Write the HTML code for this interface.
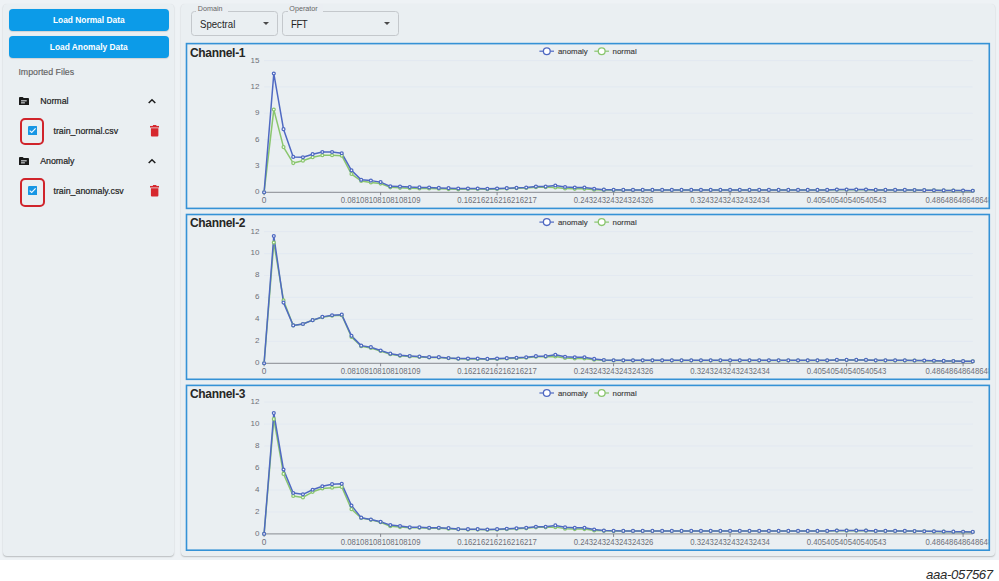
<!DOCTYPE html>
<html><head><meta charset="utf-8">
<style>
html,body{margin:0;padding:0;}
body{width:999px;height:581px;background:#ffffff;position:relative;overflow:hidden;font-family:"Liberation Sans",sans-serif;}
.page{position:absolute;left:0;top:0;width:999px;height:559.5px;background:#eef2f5;}
.panel{position:absolute;background:#eaeff2;border-radius:4px;box-shadow:0 1px 1.5px rgba(0,0,0,0.22),0 0 1px rgba(0,0,0,0.06);}
.btn{position:absolute;left:8.6px;width:160.3px;height:22.7px;background:#0c9be8;border-radius:4px;color:#fff;font-weight:bold;font-size:8.4px;text-align:center;line-height:23px;box-shadow:0 0.5px 1px rgba(0,0,0,0.12);}
.lbl{position:absolute;white-space:nowrap;}
.tx{font-size:8.8px;color:#1c1c1c;-webkit-text-stroke:0.2px #1c1c1c;}
.cbox{position:absolute;left:186px;width:801.5px;height:163.5px;border:1.5px solid #3b92d8;}
.ctitle{position:absolute;left:189.9px;font-weight:bold;font-size:12px;letter-spacing:-0.3px;color:#262626;}
.sel{position:absolute;top:11.25px;height:22.75px;border:1px solid #c4c8cc;border-radius:3.5px;}
.sel .t{position:absolute;left:8.3px;top:0.6px;line-height:22.75px;font-size:10.7px;color:#1f1f1f;transform:scaleX(0.9);transform-origin:0 0;}
.sel .lab{position:absolute;left:4.5px;top:-8.2px;padding:0 5px 0 1.8px;background:#eaeef2;font-size:7.2px;color:#666;line-height:9px;}
.sel .arr{position:absolute;top:10.2px;width:0;height:0;border-left:3px solid transparent;border-right:3px solid transparent;border-top:3px solid #4a4a4a;}
svg text.xl{font-family:"Liberation Sans",sans-serif;font-size:8.3px;fill:#6e7079;}
svg text.yl{font-family:"Liberation Sans",sans-serif;font-size:8px;fill:#6e7079;}
svg text.lg{font-family:"Liberation Sans",sans-serif;font-size:7.9px;fill:#3a3a3a;stroke:#3a3a3a;stroke-width:0.12px;}
</style></head><body>
<div class="page"></div>
<div class="panel" style="left:3.1px;top:3.8px;width:170.5px;height:552.3px;"></div>
<div class="panel" style="left:180.8px;top:4px;width:814.5px;height:552px;"></div>

<div class="btn" style="top:8.6px;">Load Normal Data</div>
<div class="btn" style="top:36.2px;height:22.3px;">Load Anomaly Data</div>
<div class="lbl" style="left:18.4px;top:66.5px;font-size:8.8px;color:#626262;-webkit-text-stroke:0.15px #626262;">Imported Files</div>


<svg style="position:absolute;left:19.0px;top:96.9px" width="10.1" height="8.3" viewBox="0 0 11 9" preserveAspectRatio="none"><path d="M0 1 Q0 0 1 0 H4 L5.2 1.2 H10 Q11 1.2 11 2.2 V8 Q11 9 10 9 H1 Q0 9 0 8 Z" fill="#1b1b1b"/><rect x="2.2" y="3.6" width="6.2" height="1.1" fill="#eaeef2"/><rect x="2.2" y="5.8" width="4.2" height="1.1" fill="#eaeef2"/></svg>
<div class="lbl tx" style="left:40.2px;top:95.6px;">Normal</div>
<svg style="position:absolute;left:147.8px;top:98.2px" width="8" height="6" viewBox="0 0 8 6"><path d="M0.7 5 L4 1.7 L7.3 5" fill="none" stroke="#1e1e1e" stroke-width="1.5"/></svg>
<div style="position:absolute;left:20.1px;top:118.1px;width:20.2px;height:23.2px;border:2px solid #d0242b;border-radius:5px;"></div>
<svg style="position:absolute;left:27.5px;top:126.1px" width="9.4" height="9.4" viewBox="0 0 9.4 9.4"><rect x="0" y="0" width="9.4" height="9.4" rx="1.3" fill="#1896e4"/><path d="M1.7 4.6 L3.7 6.5 L7.6 2.4" fill="none" stroke="#f2f8ff" stroke-width="1.15"/></svg>
<div class="lbl tx" style="left:53.5px;top:125.7px;">train_normal.csv</div>
<svg style="position:absolute;left:149.8px;top:125.2px" width="9.3" height="11.6" viewBox="0 0 9.2 11" preserveAspectRatio="none"><rect x="0" y="0.9" width="9.2" height="1.5" fill="#d6282e"/><rect x="2.9" y="0" width="3.4" height="1.4" fill="#d6282e"/><path d="M0.9 3 H8.3 V9.9 Q8.3 10.9 7.3 10.9 H1.9 Q0.9 10.9 0.9 9.9 Z" fill="#d6282e"/></svg>


<svg style="position:absolute;left:19.0px;top:156.9px" width="10.1" height="8.3" viewBox="0 0 11 9" preserveAspectRatio="none"><path d="M0 1 Q0 0 1 0 H4 L5.2 1.2 H10 Q11 1.2 11 2.2 V8 Q11 9 10 9 H1 Q0 9 0 8 Z" fill="#1b1b1b"/><rect x="2.2" y="3.6" width="6.2" height="1.1" fill="#eaeef2"/><rect x="2.2" y="5.8" width="4.2" height="1.1" fill="#eaeef2"/></svg>
<div class="lbl tx" style="left:40.2px;top:155.6px;">Anomaly</div>
<svg style="position:absolute;left:147.8px;top:158.2px" width="8" height="6" viewBox="0 0 8 6"><path d="M0.7 5 L4 1.7 L7.3 5" fill="none" stroke="#1e1e1e" stroke-width="1.5"/></svg>
<div style="position:absolute;left:19.6px;top:178.0px;width:21.2px;height:24.5px;border:2px solid #d0242b;border-radius:5px;"></div>
<svg style="position:absolute;left:27.5px;top:186.1px" width="9.4" height="9.4" viewBox="0 0 9.4 9.4"><rect x="0" y="0" width="9.4" height="9.4" rx="1.3" fill="#1896e4"/><path d="M1.7 4.6 L3.7 6.5 L7.6 2.4" fill="none" stroke="#f2f8ff" stroke-width="1.15"/></svg>
<div class="lbl tx" style="left:53.5px;top:185.7px;">train_anomaly.csv</div>
<svg style="position:absolute;left:149.8px;top:185.2px" width="9.3" height="11.6" viewBox="0 0 9.2 11" preserveAspectRatio="none"><rect x="0" y="0.9" width="9.2" height="1.5" fill="#d6282e"/><rect x="2.9" y="0" width="3.4" height="1.4" fill="#d6282e"/><path d="M0.9 3 H8.3 V9.9 Q8.3 10.9 7.3 10.9 H1.9 Q0.9 10.9 0.9 9.9 Z" fill="#d6282e"/></svg>


<!-- selects -->
<div class="sel" style="left:190.5px;width:85px;"><span class="lab">Domain</span><span class="t">Spectral</span><span class="arr" style="left:71px;"></span></div>
<div class="sel" style="left:282px;width:115px;"><span class="lab">Operator</span><span class="t" style="letter-spacing:-0.5px;">FFT</span><span class="arr" style="left:100.8px;"></span></div>

<div class="ctitle" style="top:45.50px">Channel-1</div><div class="ctitle" style="top:216.40px">Channel-2</div><div class="ctitle" style="top:387.30px">Channel-3</div>
<svg style="position:absolute;left:0;top:0" width="999" height="581" viewBox="0 0 999 581">
<defs><clipPath id="cp"><rect x="187.3" y="0" width="801.2" height="581"/></clipPath></defs>
<g clip-path="url(#cp)">
<text x="259.4" y="194.20" text-anchor="end" class="yl">0</text>
<line x1="264.10" y1="165.96" x2="972.78" y2="165.96" stroke="#e0e6f1" stroke-width="0.7"/>
<text x="259.4" y="167.86" text-anchor="end" class="yl">3</text>
<line x1="264.10" y1="139.62" x2="972.78" y2="139.62" stroke="#e0e6f1" stroke-width="0.7"/>
<text x="259.4" y="141.52" text-anchor="end" class="yl">6</text>
<line x1="264.10" y1="113.28" x2="972.78" y2="113.28" stroke="#e0e6f1" stroke-width="0.7"/>
<text x="259.4" y="115.18" text-anchor="end" class="yl">9</text>
<line x1="264.10" y1="86.94" x2="972.78" y2="86.94" stroke="#e0e6f1" stroke-width="0.7"/>
<text x="259.4" y="88.84" text-anchor="end" class="yl">12</text>
<line x1="264.10" y1="60.60" x2="972.78" y2="60.60" stroke="#e0e6f1" stroke-width="0.7"/>
<text x="259.4" y="62.50" text-anchor="end" class="yl">15</text>
<line x1="264.10" y1="192.30" x2="972.78" y2="192.30" stroke="#6e7079" stroke-width="0.8"/>
<line x1="264.10" y1="192.30" x2="264.10" y2="195.30" stroke="#6e7079" stroke-width="0.8"/>
<text x="264.10" y="203.00" text-anchor="middle" class="xl">0</text>
<line x1="380.60" y1="192.30" x2="380.60" y2="195.30" stroke="#6e7079" stroke-width="0.8"/>
<text x="380.60" y="203.00" text-anchor="middle" class="xl" textLength="79.72" lengthAdjust="spacingAndGlyphs">0.08108108108108109</text>
<line x1="497.09" y1="192.30" x2="497.09" y2="195.30" stroke="#6e7079" stroke-width="0.8"/>
<text x="497.09" y="203.00" text-anchor="middle" class="xl" textLength="79.72" lengthAdjust="spacingAndGlyphs">0.16216216216216217</text>
<line x1="613.59" y1="192.30" x2="613.59" y2="195.30" stroke="#6e7079" stroke-width="0.8"/>
<text x="613.59" y="203.00" text-anchor="middle" class="xl" textLength="79.72" lengthAdjust="spacingAndGlyphs">0.24324324324324326</text>
<line x1="730.08" y1="192.30" x2="730.08" y2="195.30" stroke="#6e7079" stroke-width="0.8"/>
<text x="730.08" y="203.00" text-anchor="middle" class="xl" textLength="79.72" lengthAdjust="spacingAndGlyphs">0.32432432432432434</text>
<line x1="846.58" y1="192.30" x2="846.58" y2="195.30" stroke="#6e7079" stroke-width="0.8"/>
<text x="846.58" y="203.00" text-anchor="middle" class="xl" textLength="79.72" lengthAdjust="spacingAndGlyphs">0.40540540540540543</text>
<line x1="963.08" y1="192.30" x2="963.08" y2="195.30" stroke="#6e7079" stroke-width="0.8"/>
<text x="963.08" y="203.00" text-anchor="middle" class="xl" textLength="75.41" lengthAdjust="spacingAndGlyphs">0.4864864864864864</text>
<polyline points="264.10,192.30 273.81,109.59 283.52,147.08 293.22,163.06 302.93,160.69 312.64,157.18 322.35,155.25 332.06,155.25 341.76,155.69 351.47,174.04 361.18,180.89 370.89,182.47 380.60,183.61 390.30,187.30 400.01,187.82 409.72,188.17 419.43,188.44 429.14,188.52 438.84,188.79 448.55,189.05 458.26,189.31 467.97,188.90 477.68,188.90 487.38,189.14 497.09,188.90 506.80,188.59 516.51,188.27 526.22,187.95 535.92,187.16 545.63,187.16 555.34,187.43 565.05,188.51 574.76,188.82 584.46,188.82 594.17,189.77 603.88,189.93 613.59,190.09 623.30,190.05 633.00,190.05 642.71,190.05 652.42,190.05 662.13,190.05 671.84,190.05 681.54,190.05 691.25,190.05 700.96,190.05 710.67,190.05 720.38,190.05 730.08,190.05 739.79,190.05 749.50,190.05 759.21,190.05 768.92,190.05 778.62,190.05 788.33,190.05 798.04,190.05 807.75,190.05 817.46,190.05 827.16,190.05 836.87,189.71 846.58,189.71 856.29,189.71 866.00,189.71 875.70,190.05 885.41,190.05 895.12,190.05 904.83,190.05 914.54,190.16 924.24,190.26 933.95,190.37 943.66,190.48 953.37,190.59 963.08,190.70 972.78,190.81" fill="none" stroke="#8ac66e" stroke-width="1.5" stroke-linejoin="round"/>
<polyline points="264.10,192.30 273.81,73.51 283.52,129.17 293.22,156.92 302.93,157.27 312.64,154.19 322.35,152.00 332.06,152.00 341.76,153.23 351.47,170.35 361.18,179.83 370.89,180.62 380.60,182.12 390.30,186.33 400.01,186.59 409.72,187.12 419.43,187.38 429.14,187.47 438.84,187.91 448.55,188.17 458.26,188.52 467.97,188.52 477.68,188.52 487.38,188.79 497.09,188.52 506.80,188.17 516.51,187.82 526.22,187.47 535.92,186.59 545.63,186.59 555.34,185.54 565.05,187.03 574.76,187.47 584.46,187.47 594.17,188.79 603.88,189.67 613.59,189.84 623.30,189.93 633.00,189.93 642.71,189.93 652.42,189.93 662.13,189.93 671.84,189.93 681.54,189.93 691.25,189.93 700.96,189.93 710.67,189.93 720.38,189.93 730.08,189.93 739.79,189.93 749.50,189.93 759.21,189.93 768.92,189.93 778.62,189.93 788.33,189.93 798.04,189.93 807.75,189.93 817.46,189.93 827.16,189.93 836.87,189.58 846.58,189.58 856.29,189.58 866.00,189.58 875.70,189.93 885.41,189.93 895.12,189.93 904.83,189.93 914.54,190.04 924.24,190.16 933.95,190.27 943.66,190.39 953.37,190.50 963.08,190.61 972.78,190.73" fill="none" stroke="#4f69c2" stroke-width="1.5" stroke-linejoin="round"/>
<circle cx="264.10" cy="192.30" r="1.45" fill="#fff" stroke="#8ac66e" stroke-width="1.25"/><circle cx="273.81" cy="109.59" r="1.45" fill="#fff" stroke="#8ac66e" stroke-width="1.25"/><circle cx="283.52" cy="147.08" r="1.45" fill="#fff" stroke="#8ac66e" stroke-width="1.25"/><circle cx="293.22" cy="163.06" r="1.45" fill="#fff" stroke="#8ac66e" stroke-width="1.25"/><circle cx="302.93" cy="160.69" r="1.45" fill="#fff" stroke="#8ac66e" stroke-width="1.25"/><circle cx="312.64" cy="157.18" r="1.45" fill="#fff" stroke="#8ac66e" stroke-width="1.25"/><circle cx="322.35" cy="155.25" r="1.45" fill="#fff" stroke="#8ac66e" stroke-width="1.25"/><circle cx="332.06" cy="155.25" r="1.45" fill="#fff" stroke="#8ac66e" stroke-width="1.25"/><circle cx="341.76" cy="155.69" r="1.45" fill="#fff" stroke="#8ac66e" stroke-width="1.25"/><circle cx="351.47" cy="174.04" r="1.45" fill="#fff" stroke="#8ac66e" stroke-width="1.25"/><circle cx="361.18" cy="180.89" r="1.45" fill="#fff" stroke="#8ac66e" stroke-width="1.25"/><circle cx="370.89" cy="182.47" r="1.45" fill="#fff" stroke="#8ac66e" stroke-width="1.25"/><circle cx="380.60" cy="183.61" r="1.45" fill="#fff" stroke="#8ac66e" stroke-width="1.25"/><circle cx="390.30" cy="187.30" r="1.45" fill="#fff" stroke="#8ac66e" stroke-width="1.25"/><circle cx="400.01" cy="187.82" r="1.45" fill="#fff" stroke="#8ac66e" stroke-width="1.25"/><circle cx="409.72" cy="188.17" r="1.45" fill="#fff" stroke="#8ac66e" stroke-width="1.25"/><circle cx="419.43" cy="188.44" r="1.45" fill="#fff" stroke="#8ac66e" stroke-width="1.25"/><circle cx="429.14" cy="188.52" r="1.45" fill="#fff" stroke="#8ac66e" stroke-width="1.25"/><circle cx="438.84" cy="188.79" r="1.45" fill="#fff" stroke="#8ac66e" stroke-width="1.25"/><circle cx="448.55" cy="189.05" r="1.45" fill="#fff" stroke="#8ac66e" stroke-width="1.25"/><circle cx="458.26" cy="189.31" r="1.45" fill="#fff" stroke="#8ac66e" stroke-width="1.25"/><circle cx="467.97" cy="188.90" r="1.45" fill="#fff" stroke="#8ac66e" stroke-width="1.25"/><circle cx="477.68" cy="188.90" r="1.45" fill="#fff" stroke="#8ac66e" stroke-width="1.25"/><circle cx="487.38" cy="189.14" r="1.45" fill="#fff" stroke="#8ac66e" stroke-width="1.25"/><circle cx="497.09" cy="188.90" r="1.45" fill="#fff" stroke="#8ac66e" stroke-width="1.25"/><circle cx="506.80" cy="188.59" r="1.45" fill="#fff" stroke="#8ac66e" stroke-width="1.25"/><circle cx="516.51" cy="188.27" r="1.45" fill="#fff" stroke="#8ac66e" stroke-width="1.25"/><circle cx="526.22" cy="187.95" r="1.45" fill="#fff" stroke="#8ac66e" stroke-width="1.25"/><circle cx="535.92" cy="187.16" r="1.45" fill="#fff" stroke="#8ac66e" stroke-width="1.25"/><circle cx="545.63" cy="187.16" r="1.45" fill="#fff" stroke="#8ac66e" stroke-width="1.25"/><circle cx="555.34" cy="187.43" r="1.45" fill="#fff" stroke="#8ac66e" stroke-width="1.25"/><circle cx="565.05" cy="188.51" r="1.45" fill="#fff" stroke="#8ac66e" stroke-width="1.25"/><circle cx="574.76" cy="188.82" r="1.45" fill="#fff" stroke="#8ac66e" stroke-width="1.25"/><circle cx="584.46" cy="188.82" r="1.45" fill="#fff" stroke="#8ac66e" stroke-width="1.25"/><circle cx="594.17" cy="189.77" r="1.45" fill="#fff" stroke="#8ac66e" stroke-width="1.25"/><circle cx="603.88" cy="189.93" r="1.45" fill="#fff" stroke="#8ac66e" stroke-width="1.25"/><circle cx="613.59" cy="190.09" r="1.45" fill="#fff" stroke="#8ac66e" stroke-width="1.25"/><circle cx="623.30" cy="190.05" r="1.45" fill="#fff" stroke="#8ac66e" stroke-width="1.25"/><circle cx="633.00" cy="190.05" r="1.45" fill="#fff" stroke="#8ac66e" stroke-width="1.25"/><circle cx="642.71" cy="190.05" r="1.45" fill="#fff" stroke="#8ac66e" stroke-width="1.25"/><circle cx="652.42" cy="190.05" r="1.45" fill="#fff" stroke="#8ac66e" stroke-width="1.25"/><circle cx="662.13" cy="190.05" r="1.45" fill="#fff" stroke="#8ac66e" stroke-width="1.25"/><circle cx="671.84" cy="190.05" r="1.45" fill="#fff" stroke="#8ac66e" stroke-width="1.25"/><circle cx="681.54" cy="190.05" r="1.45" fill="#fff" stroke="#8ac66e" stroke-width="1.25"/><circle cx="691.25" cy="190.05" r="1.45" fill="#fff" stroke="#8ac66e" stroke-width="1.25"/><circle cx="700.96" cy="190.05" r="1.45" fill="#fff" stroke="#8ac66e" stroke-width="1.25"/><circle cx="710.67" cy="190.05" r="1.45" fill="#fff" stroke="#8ac66e" stroke-width="1.25"/><circle cx="720.38" cy="190.05" r="1.45" fill="#fff" stroke="#8ac66e" stroke-width="1.25"/><circle cx="730.08" cy="190.05" r="1.45" fill="#fff" stroke="#8ac66e" stroke-width="1.25"/><circle cx="739.79" cy="190.05" r="1.45" fill="#fff" stroke="#8ac66e" stroke-width="1.25"/><circle cx="749.50" cy="190.05" r="1.45" fill="#fff" stroke="#8ac66e" stroke-width="1.25"/><circle cx="759.21" cy="190.05" r="1.45" fill="#fff" stroke="#8ac66e" stroke-width="1.25"/><circle cx="768.92" cy="190.05" r="1.45" fill="#fff" stroke="#8ac66e" stroke-width="1.25"/><circle cx="778.62" cy="190.05" r="1.45" fill="#fff" stroke="#8ac66e" stroke-width="1.25"/><circle cx="788.33" cy="190.05" r="1.45" fill="#fff" stroke="#8ac66e" stroke-width="1.25"/><circle cx="798.04" cy="190.05" r="1.45" fill="#fff" stroke="#8ac66e" stroke-width="1.25"/><circle cx="807.75" cy="190.05" r="1.45" fill="#fff" stroke="#8ac66e" stroke-width="1.25"/><circle cx="817.46" cy="190.05" r="1.45" fill="#fff" stroke="#8ac66e" stroke-width="1.25"/><circle cx="827.16" cy="190.05" r="1.45" fill="#fff" stroke="#8ac66e" stroke-width="1.25"/><circle cx="836.87" cy="189.71" r="1.45" fill="#fff" stroke="#8ac66e" stroke-width="1.25"/><circle cx="846.58" cy="189.71" r="1.45" fill="#fff" stroke="#8ac66e" stroke-width="1.25"/><circle cx="856.29" cy="189.71" r="1.45" fill="#fff" stroke="#8ac66e" stroke-width="1.25"/><circle cx="866.00" cy="189.71" r="1.45" fill="#fff" stroke="#8ac66e" stroke-width="1.25"/><circle cx="875.70" cy="190.05" r="1.45" fill="#fff" stroke="#8ac66e" stroke-width="1.25"/><circle cx="885.41" cy="190.05" r="1.45" fill="#fff" stroke="#8ac66e" stroke-width="1.25"/><circle cx="895.12" cy="190.05" r="1.45" fill="#fff" stroke="#8ac66e" stroke-width="1.25"/><circle cx="904.83" cy="190.05" r="1.45" fill="#fff" stroke="#8ac66e" stroke-width="1.25"/><circle cx="914.54" cy="190.16" r="1.45" fill="#fff" stroke="#8ac66e" stroke-width="1.25"/><circle cx="924.24" cy="190.26" r="1.45" fill="#fff" stroke="#8ac66e" stroke-width="1.25"/><circle cx="933.95" cy="190.37" r="1.45" fill="#fff" stroke="#8ac66e" stroke-width="1.25"/><circle cx="943.66" cy="190.48" r="1.45" fill="#fff" stroke="#8ac66e" stroke-width="1.25"/><circle cx="953.37" cy="190.59" r="1.45" fill="#fff" stroke="#8ac66e" stroke-width="1.25"/><circle cx="963.08" cy="190.70" r="1.45" fill="#fff" stroke="#8ac66e" stroke-width="1.25"/><circle cx="972.78" cy="190.81" r="1.45" fill="#fff" stroke="#8ac66e" stroke-width="1.25"/>
<circle cx="264.10" cy="192.30" r="1.45" fill="#fff" stroke="#4f69c2" stroke-width="1.25"/><circle cx="273.81" cy="73.51" r="1.45" fill="#fff" stroke="#4f69c2" stroke-width="1.25"/><circle cx="283.52" cy="129.17" r="1.45" fill="#fff" stroke="#4f69c2" stroke-width="1.25"/><circle cx="293.22" cy="156.92" r="1.45" fill="#fff" stroke="#4f69c2" stroke-width="1.25"/><circle cx="302.93" cy="157.27" r="1.45" fill="#fff" stroke="#4f69c2" stroke-width="1.25"/><circle cx="312.64" cy="154.19" r="1.45" fill="#fff" stroke="#4f69c2" stroke-width="1.25"/><circle cx="322.35" cy="152.00" r="1.45" fill="#fff" stroke="#4f69c2" stroke-width="1.25"/><circle cx="332.06" cy="152.00" r="1.45" fill="#fff" stroke="#4f69c2" stroke-width="1.25"/><circle cx="341.76" cy="153.23" r="1.45" fill="#fff" stroke="#4f69c2" stroke-width="1.25"/><circle cx="351.47" cy="170.35" r="1.45" fill="#fff" stroke="#4f69c2" stroke-width="1.25"/><circle cx="361.18" cy="179.83" r="1.45" fill="#fff" stroke="#4f69c2" stroke-width="1.25"/><circle cx="370.89" cy="180.62" r="1.45" fill="#fff" stroke="#4f69c2" stroke-width="1.25"/><circle cx="380.60" cy="182.12" r="1.45" fill="#fff" stroke="#4f69c2" stroke-width="1.25"/><circle cx="390.30" cy="186.33" r="1.45" fill="#fff" stroke="#4f69c2" stroke-width="1.25"/><circle cx="400.01" cy="186.59" r="1.45" fill="#fff" stroke="#4f69c2" stroke-width="1.25"/><circle cx="409.72" cy="187.12" r="1.45" fill="#fff" stroke="#4f69c2" stroke-width="1.25"/><circle cx="419.43" cy="187.38" r="1.45" fill="#fff" stroke="#4f69c2" stroke-width="1.25"/><circle cx="429.14" cy="187.47" r="1.45" fill="#fff" stroke="#4f69c2" stroke-width="1.25"/><circle cx="438.84" cy="187.91" r="1.45" fill="#fff" stroke="#4f69c2" stroke-width="1.25"/><circle cx="448.55" cy="188.17" r="1.45" fill="#fff" stroke="#4f69c2" stroke-width="1.25"/><circle cx="458.26" cy="188.52" r="1.45" fill="#fff" stroke="#4f69c2" stroke-width="1.25"/><circle cx="467.97" cy="188.52" r="1.45" fill="#fff" stroke="#4f69c2" stroke-width="1.25"/><circle cx="477.68" cy="188.52" r="1.45" fill="#fff" stroke="#4f69c2" stroke-width="1.25"/><circle cx="487.38" cy="188.79" r="1.45" fill="#fff" stroke="#4f69c2" stroke-width="1.25"/><circle cx="497.09" cy="188.52" r="1.45" fill="#fff" stroke="#4f69c2" stroke-width="1.25"/><circle cx="506.80" cy="188.17" r="1.45" fill="#fff" stroke="#4f69c2" stroke-width="1.25"/><circle cx="516.51" cy="187.82" r="1.45" fill="#fff" stroke="#4f69c2" stroke-width="1.25"/><circle cx="526.22" cy="187.47" r="1.45" fill="#fff" stroke="#4f69c2" stroke-width="1.25"/><circle cx="535.92" cy="186.59" r="1.45" fill="#fff" stroke="#4f69c2" stroke-width="1.25"/><circle cx="545.63" cy="186.59" r="1.45" fill="#fff" stroke="#4f69c2" stroke-width="1.25"/><circle cx="555.34" cy="185.54" r="1.45" fill="#fff" stroke="#4f69c2" stroke-width="1.25"/><circle cx="565.05" cy="187.03" r="1.45" fill="#fff" stroke="#4f69c2" stroke-width="1.25"/><circle cx="574.76" cy="187.47" r="1.45" fill="#fff" stroke="#4f69c2" stroke-width="1.25"/><circle cx="584.46" cy="187.47" r="1.45" fill="#fff" stroke="#4f69c2" stroke-width="1.25"/><circle cx="594.17" cy="188.79" r="1.45" fill="#fff" stroke="#4f69c2" stroke-width="1.25"/><circle cx="603.88" cy="189.67" r="1.45" fill="#fff" stroke="#4f69c2" stroke-width="1.25"/><circle cx="613.59" cy="189.84" r="1.45" fill="#fff" stroke="#4f69c2" stroke-width="1.25"/><circle cx="623.30" cy="189.93" r="1.45" fill="#fff" stroke="#4f69c2" stroke-width="1.25"/><circle cx="633.00" cy="189.93" r="1.45" fill="#fff" stroke="#4f69c2" stroke-width="1.25"/><circle cx="642.71" cy="189.93" r="1.45" fill="#fff" stroke="#4f69c2" stroke-width="1.25"/><circle cx="652.42" cy="189.93" r="1.45" fill="#fff" stroke="#4f69c2" stroke-width="1.25"/><circle cx="662.13" cy="189.93" r="1.45" fill="#fff" stroke="#4f69c2" stroke-width="1.25"/><circle cx="671.84" cy="189.93" r="1.45" fill="#fff" stroke="#4f69c2" stroke-width="1.25"/><circle cx="681.54" cy="189.93" r="1.45" fill="#fff" stroke="#4f69c2" stroke-width="1.25"/><circle cx="691.25" cy="189.93" r="1.45" fill="#fff" stroke="#4f69c2" stroke-width="1.25"/><circle cx="700.96" cy="189.93" r="1.45" fill="#fff" stroke="#4f69c2" stroke-width="1.25"/><circle cx="710.67" cy="189.93" r="1.45" fill="#fff" stroke="#4f69c2" stroke-width="1.25"/><circle cx="720.38" cy="189.93" r="1.45" fill="#fff" stroke="#4f69c2" stroke-width="1.25"/><circle cx="730.08" cy="189.93" r="1.45" fill="#fff" stroke="#4f69c2" stroke-width="1.25"/><circle cx="739.79" cy="189.93" r="1.45" fill="#fff" stroke="#4f69c2" stroke-width="1.25"/><circle cx="749.50" cy="189.93" r="1.45" fill="#fff" stroke="#4f69c2" stroke-width="1.25"/><circle cx="759.21" cy="189.93" r="1.45" fill="#fff" stroke="#4f69c2" stroke-width="1.25"/><circle cx="768.92" cy="189.93" r="1.45" fill="#fff" stroke="#4f69c2" stroke-width="1.25"/><circle cx="778.62" cy="189.93" r="1.45" fill="#fff" stroke="#4f69c2" stroke-width="1.25"/><circle cx="788.33" cy="189.93" r="1.45" fill="#fff" stroke="#4f69c2" stroke-width="1.25"/><circle cx="798.04" cy="189.93" r="1.45" fill="#fff" stroke="#4f69c2" stroke-width="1.25"/><circle cx="807.75" cy="189.93" r="1.45" fill="#fff" stroke="#4f69c2" stroke-width="1.25"/><circle cx="817.46" cy="189.93" r="1.45" fill="#fff" stroke="#4f69c2" stroke-width="1.25"/><circle cx="827.16" cy="189.93" r="1.45" fill="#fff" stroke="#4f69c2" stroke-width="1.25"/><circle cx="836.87" cy="189.58" r="1.45" fill="#fff" stroke="#4f69c2" stroke-width="1.25"/><circle cx="846.58" cy="189.58" r="1.45" fill="#fff" stroke="#4f69c2" stroke-width="1.25"/><circle cx="856.29" cy="189.58" r="1.45" fill="#fff" stroke="#4f69c2" stroke-width="1.25"/><circle cx="866.00" cy="189.58" r="1.45" fill="#fff" stroke="#4f69c2" stroke-width="1.25"/><circle cx="875.70" cy="189.93" r="1.45" fill="#fff" stroke="#4f69c2" stroke-width="1.25"/><circle cx="885.41" cy="189.93" r="1.45" fill="#fff" stroke="#4f69c2" stroke-width="1.25"/><circle cx="895.12" cy="189.93" r="1.45" fill="#fff" stroke="#4f69c2" stroke-width="1.25"/><circle cx="904.83" cy="189.93" r="1.45" fill="#fff" stroke="#4f69c2" stroke-width="1.25"/><circle cx="914.54" cy="190.04" r="1.45" fill="#fff" stroke="#4f69c2" stroke-width="1.25"/><circle cx="924.24" cy="190.16" r="1.45" fill="#fff" stroke="#4f69c2" stroke-width="1.25"/><circle cx="933.95" cy="190.27" r="1.45" fill="#fff" stroke="#4f69c2" stroke-width="1.25"/><circle cx="943.66" cy="190.39" r="1.45" fill="#fff" stroke="#4f69c2" stroke-width="1.25"/><circle cx="953.37" cy="190.50" r="1.45" fill="#fff" stroke="#4f69c2" stroke-width="1.25"/><circle cx="963.08" cy="190.61" r="1.45" fill="#fff" stroke="#4f69c2" stroke-width="1.25"/><circle cx="972.78" cy="190.73" r="1.45" fill="#fff" stroke="#4f69c2" stroke-width="1.25"/>
<line x1="539.4" y1="51.20" x2="554" y2="51.20" stroke="#4f69c2" stroke-width="1.2"/>
<circle cx="546.8" cy="51.20" r="3.4" fill="#fff" stroke="#4f69c2" stroke-width="1.3"/>
<text x="557.9" y="53.70" class="lg">anomaly</text>
<line x1="594.3" y1="51.20" x2="609" y2="51.20" stroke="#8ac66e" stroke-width="1.2"/>
<circle cx="601.7" cy="51.20" r="3.4" fill="#fff" stroke="#8ac66e" stroke-width="1.3"/>
<text x="612.6" y="53.70" class="lg">normal</text>
<text x="259.4" y="365.20" text-anchor="end" class="yl">0</text>
<line x1="264.10" y1="341.35" x2="972.78" y2="341.35" stroke="#e0e6f1" stroke-width="0.7"/>
<text x="259.4" y="343.25" text-anchor="end" class="yl">2</text>
<line x1="264.10" y1="319.40" x2="972.78" y2="319.40" stroke="#e0e6f1" stroke-width="0.7"/>
<text x="259.4" y="321.30" text-anchor="end" class="yl">4</text>
<line x1="264.10" y1="297.45" x2="972.78" y2="297.45" stroke="#e0e6f1" stroke-width="0.7"/>
<text x="259.4" y="299.35" text-anchor="end" class="yl">6</text>
<line x1="264.10" y1="275.50" x2="972.78" y2="275.50" stroke="#e0e6f1" stroke-width="0.7"/>
<text x="259.4" y="277.40" text-anchor="end" class="yl">8</text>
<line x1="264.10" y1="253.55" x2="972.78" y2="253.55" stroke="#e0e6f1" stroke-width="0.7"/>
<text x="259.4" y="255.45" text-anchor="end" class="yl">10</text>
<line x1="264.10" y1="231.60" x2="972.78" y2="231.60" stroke="#e0e6f1" stroke-width="0.7"/>
<text x="259.4" y="233.50" text-anchor="end" class="yl">12</text>
<line x1="264.10" y1="363.30" x2="972.78" y2="363.30" stroke="#6e7079" stroke-width="0.8"/>
<line x1="264.10" y1="363.30" x2="264.10" y2="366.30" stroke="#6e7079" stroke-width="0.8"/>
<text x="264.10" y="374.00" text-anchor="middle" class="xl">0</text>
<line x1="380.60" y1="363.30" x2="380.60" y2="366.30" stroke="#6e7079" stroke-width="0.8"/>
<text x="380.60" y="374.00" text-anchor="middle" class="xl" textLength="79.72" lengthAdjust="spacingAndGlyphs">0.08108108108108109</text>
<line x1="497.09" y1="363.30" x2="497.09" y2="366.30" stroke="#6e7079" stroke-width="0.8"/>
<text x="497.09" y="374.00" text-anchor="middle" class="xl" textLength="79.72" lengthAdjust="spacingAndGlyphs">0.16216216216216217</text>
<line x1="613.59" y1="363.30" x2="613.59" y2="366.30" stroke="#6e7079" stroke-width="0.8"/>
<text x="613.59" y="374.00" text-anchor="middle" class="xl" textLength="79.72" lengthAdjust="spacingAndGlyphs">0.24324324324324326</text>
<line x1="730.08" y1="363.30" x2="730.08" y2="366.30" stroke="#6e7079" stroke-width="0.8"/>
<text x="730.08" y="374.00" text-anchor="middle" class="xl" textLength="79.72" lengthAdjust="spacingAndGlyphs">0.32432432432432434</text>
<line x1="846.58" y1="363.30" x2="846.58" y2="366.30" stroke="#6e7079" stroke-width="0.8"/>
<text x="846.58" y="374.00" text-anchor="middle" class="xl" textLength="79.72" lengthAdjust="spacingAndGlyphs">0.40540540540540543</text>
<line x1="963.08" y1="363.30" x2="963.08" y2="366.30" stroke="#6e7079" stroke-width="0.8"/>
<text x="963.08" y="374.00" text-anchor="middle" class="xl" textLength="75.41" lengthAdjust="spacingAndGlyphs">0.4864864864864864</text>
<polyline points="264.10,363.30 273.81,242.57 283.52,300.41 293.22,325.44 302.93,324.01 312.64,320.17 322.35,317.20 332.06,315.78 341.76,315.23 351.47,336.96 361.18,346.29 370.89,347.94 380.60,351.01 390.30,354.30 400.01,355.84 409.72,356.39 419.43,356.93 429.14,357.48 438.84,357.48 448.55,358.25 458.26,358.80 467.97,358.96 477.68,358.96 487.38,359.26 497.09,358.96 506.80,358.55 516.51,358.15 526.22,357.75 535.92,356.74 545.63,356.74 555.34,356.54 565.05,358.03 574.76,358.47 584.46,358.47 594.17,359.79 603.88,360.27 613.59,360.47 623.30,360.48 633.00,360.48 642.71,360.48 652.42,360.48 662.13,360.48 671.84,360.48 681.54,360.48 691.25,360.48 700.96,360.48 710.67,360.48 720.38,360.48 730.08,360.48 739.79,360.48 749.50,360.48 759.21,360.48 768.92,360.48 778.62,360.48 788.33,360.48 798.04,360.48 807.75,360.48 817.46,360.48 827.16,360.48 836.87,360.07 846.58,360.07 856.29,360.07 866.00,360.07 875.70,360.48 885.41,360.48 895.12,360.48 904.83,360.48 914.54,360.62 924.24,360.76 933.95,360.89 943.66,361.03 953.37,361.16 963.08,361.30 972.78,361.43" fill="none" stroke="#8ac66e" stroke-width="1.5" stroke-linejoin="round"/>
<polyline points="264.10,363.30 273.81,235.99 283.52,302.61 293.22,325.44 302.93,324.01 312.64,320.17 322.35,316.88 332.06,315.23 341.76,314.68 351.47,335.86 361.18,345.63 370.89,347.17 380.60,350.46 390.30,353.64 400.01,355.29 409.72,355.95 419.43,356.61 429.14,357.15 438.84,357.15 448.55,358.03 458.26,358.58 467.97,358.58 477.68,358.58 487.38,358.91 497.09,358.58 506.80,358.14 516.51,357.70 526.22,357.26 535.92,356.17 545.63,356.17 555.34,354.85 565.05,356.72 574.76,357.26 584.46,357.26 594.17,358.91 603.88,360.01 613.59,360.23 623.30,360.34 633.00,360.34 642.71,360.34 652.42,360.34 662.13,360.34 671.84,360.34 681.54,360.34 691.25,360.34 700.96,360.34 710.67,360.34 720.38,360.34 730.08,360.34 739.79,360.34 749.50,360.34 759.21,360.34 768.92,360.34 778.62,360.34 788.33,360.34 798.04,360.34 807.75,360.34 817.46,360.34 827.16,360.34 836.87,359.90 846.58,359.90 856.29,359.90 866.00,359.90 875.70,360.34 885.41,360.34 895.12,360.34 904.83,360.34 914.54,360.48 924.24,360.62 933.95,360.76 943.66,360.91 953.37,361.05 963.08,361.19 972.78,361.34" fill="none" stroke="#4f69c2" stroke-width="1.5" stroke-linejoin="round"/>
<circle cx="264.10" cy="363.30" r="1.45" fill="#fff" stroke="#8ac66e" stroke-width="1.25"/><circle cx="273.81" cy="242.57" r="1.45" fill="#fff" stroke="#8ac66e" stroke-width="1.25"/><circle cx="283.52" cy="300.41" r="1.45" fill="#fff" stroke="#8ac66e" stroke-width="1.25"/><circle cx="293.22" cy="325.44" r="1.45" fill="#fff" stroke="#8ac66e" stroke-width="1.25"/><circle cx="302.93" cy="324.01" r="1.45" fill="#fff" stroke="#8ac66e" stroke-width="1.25"/><circle cx="312.64" cy="320.17" r="1.45" fill="#fff" stroke="#8ac66e" stroke-width="1.25"/><circle cx="322.35" cy="317.20" r="1.45" fill="#fff" stroke="#8ac66e" stroke-width="1.25"/><circle cx="332.06" cy="315.78" r="1.45" fill="#fff" stroke="#8ac66e" stroke-width="1.25"/><circle cx="341.76" cy="315.23" r="1.45" fill="#fff" stroke="#8ac66e" stroke-width="1.25"/><circle cx="351.47" cy="336.96" r="1.45" fill="#fff" stroke="#8ac66e" stroke-width="1.25"/><circle cx="361.18" cy="346.29" r="1.45" fill="#fff" stroke="#8ac66e" stroke-width="1.25"/><circle cx="370.89" cy="347.94" r="1.45" fill="#fff" stroke="#8ac66e" stroke-width="1.25"/><circle cx="380.60" cy="351.01" r="1.45" fill="#fff" stroke="#8ac66e" stroke-width="1.25"/><circle cx="390.30" cy="354.30" r="1.45" fill="#fff" stroke="#8ac66e" stroke-width="1.25"/><circle cx="400.01" cy="355.84" r="1.45" fill="#fff" stroke="#8ac66e" stroke-width="1.25"/><circle cx="409.72" cy="356.39" r="1.45" fill="#fff" stroke="#8ac66e" stroke-width="1.25"/><circle cx="419.43" cy="356.93" r="1.45" fill="#fff" stroke="#8ac66e" stroke-width="1.25"/><circle cx="429.14" cy="357.48" r="1.45" fill="#fff" stroke="#8ac66e" stroke-width="1.25"/><circle cx="438.84" cy="357.48" r="1.45" fill="#fff" stroke="#8ac66e" stroke-width="1.25"/><circle cx="448.55" cy="358.25" r="1.45" fill="#fff" stroke="#8ac66e" stroke-width="1.25"/><circle cx="458.26" cy="358.80" r="1.45" fill="#fff" stroke="#8ac66e" stroke-width="1.25"/><circle cx="467.97" cy="358.96" r="1.45" fill="#fff" stroke="#8ac66e" stroke-width="1.25"/><circle cx="477.68" cy="358.96" r="1.45" fill="#fff" stroke="#8ac66e" stroke-width="1.25"/><circle cx="487.38" cy="359.26" r="1.45" fill="#fff" stroke="#8ac66e" stroke-width="1.25"/><circle cx="497.09" cy="358.96" r="1.45" fill="#fff" stroke="#8ac66e" stroke-width="1.25"/><circle cx="506.80" cy="358.55" r="1.45" fill="#fff" stroke="#8ac66e" stroke-width="1.25"/><circle cx="516.51" cy="358.15" r="1.45" fill="#fff" stroke="#8ac66e" stroke-width="1.25"/><circle cx="526.22" cy="357.75" r="1.45" fill="#fff" stroke="#8ac66e" stroke-width="1.25"/><circle cx="535.92" cy="356.74" r="1.45" fill="#fff" stroke="#8ac66e" stroke-width="1.25"/><circle cx="545.63" cy="356.74" r="1.45" fill="#fff" stroke="#8ac66e" stroke-width="1.25"/><circle cx="555.34" cy="356.54" r="1.45" fill="#fff" stroke="#8ac66e" stroke-width="1.25"/><circle cx="565.05" cy="358.03" r="1.45" fill="#fff" stroke="#8ac66e" stroke-width="1.25"/><circle cx="574.76" cy="358.47" r="1.45" fill="#fff" stroke="#8ac66e" stroke-width="1.25"/><circle cx="584.46" cy="358.47" r="1.45" fill="#fff" stroke="#8ac66e" stroke-width="1.25"/><circle cx="594.17" cy="359.79" r="1.45" fill="#fff" stroke="#8ac66e" stroke-width="1.25"/><circle cx="603.88" cy="360.27" r="1.45" fill="#fff" stroke="#8ac66e" stroke-width="1.25"/><circle cx="613.59" cy="360.47" r="1.45" fill="#fff" stroke="#8ac66e" stroke-width="1.25"/><circle cx="623.30" cy="360.48" r="1.45" fill="#fff" stroke="#8ac66e" stroke-width="1.25"/><circle cx="633.00" cy="360.48" r="1.45" fill="#fff" stroke="#8ac66e" stroke-width="1.25"/><circle cx="642.71" cy="360.48" r="1.45" fill="#fff" stroke="#8ac66e" stroke-width="1.25"/><circle cx="652.42" cy="360.48" r="1.45" fill="#fff" stroke="#8ac66e" stroke-width="1.25"/><circle cx="662.13" cy="360.48" r="1.45" fill="#fff" stroke="#8ac66e" stroke-width="1.25"/><circle cx="671.84" cy="360.48" r="1.45" fill="#fff" stroke="#8ac66e" stroke-width="1.25"/><circle cx="681.54" cy="360.48" r="1.45" fill="#fff" stroke="#8ac66e" stroke-width="1.25"/><circle cx="691.25" cy="360.48" r="1.45" fill="#fff" stroke="#8ac66e" stroke-width="1.25"/><circle cx="700.96" cy="360.48" r="1.45" fill="#fff" stroke="#8ac66e" stroke-width="1.25"/><circle cx="710.67" cy="360.48" r="1.45" fill="#fff" stroke="#8ac66e" stroke-width="1.25"/><circle cx="720.38" cy="360.48" r="1.45" fill="#fff" stroke="#8ac66e" stroke-width="1.25"/><circle cx="730.08" cy="360.48" r="1.45" fill="#fff" stroke="#8ac66e" stroke-width="1.25"/><circle cx="739.79" cy="360.48" r="1.45" fill="#fff" stroke="#8ac66e" stroke-width="1.25"/><circle cx="749.50" cy="360.48" r="1.45" fill="#fff" stroke="#8ac66e" stroke-width="1.25"/><circle cx="759.21" cy="360.48" r="1.45" fill="#fff" stroke="#8ac66e" stroke-width="1.25"/><circle cx="768.92" cy="360.48" r="1.45" fill="#fff" stroke="#8ac66e" stroke-width="1.25"/><circle cx="778.62" cy="360.48" r="1.45" fill="#fff" stroke="#8ac66e" stroke-width="1.25"/><circle cx="788.33" cy="360.48" r="1.45" fill="#fff" stroke="#8ac66e" stroke-width="1.25"/><circle cx="798.04" cy="360.48" r="1.45" fill="#fff" stroke="#8ac66e" stroke-width="1.25"/><circle cx="807.75" cy="360.48" r="1.45" fill="#fff" stroke="#8ac66e" stroke-width="1.25"/><circle cx="817.46" cy="360.48" r="1.45" fill="#fff" stroke="#8ac66e" stroke-width="1.25"/><circle cx="827.16" cy="360.48" r="1.45" fill="#fff" stroke="#8ac66e" stroke-width="1.25"/><circle cx="836.87" cy="360.07" r="1.45" fill="#fff" stroke="#8ac66e" stroke-width="1.25"/><circle cx="846.58" cy="360.07" r="1.45" fill="#fff" stroke="#8ac66e" stroke-width="1.25"/><circle cx="856.29" cy="360.07" r="1.45" fill="#fff" stroke="#8ac66e" stroke-width="1.25"/><circle cx="866.00" cy="360.07" r="1.45" fill="#fff" stroke="#8ac66e" stroke-width="1.25"/><circle cx="875.70" cy="360.48" r="1.45" fill="#fff" stroke="#8ac66e" stroke-width="1.25"/><circle cx="885.41" cy="360.48" r="1.45" fill="#fff" stroke="#8ac66e" stroke-width="1.25"/><circle cx="895.12" cy="360.48" r="1.45" fill="#fff" stroke="#8ac66e" stroke-width="1.25"/><circle cx="904.83" cy="360.48" r="1.45" fill="#fff" stroke="#8ac66e" stroke-width="1.25"/><circle cx="914.54" cy="360.62" r="1.45" fill="#fff" stroke="#8ac66e" stroke-width="1.25"/><circle cx="924.24" cy="360.76" r="1.45" fill="#fff" stroke="#8ac66e" stroke-width="1.25"/><circle cx="933.95" cy="360.89" r="1.45" fill="#fff" stroke="#8ac66e" stroke-width="1.25"/><circle cx="943.66" cy="361.03" r="1.45" fill="#fff" stroke="#8ac66e" stroke-width="1.25"/><circle cx="953.37" cy="361.16" r="1.45" fill="#fff" stroke="#8ac66e" stroke-width="1.25"/><circle cx="963.08" cy="361.30" r="1.45" fill="#fff" stroke="#8ac66e" stroke-width="1.25"/><circle cx="972.78" cy="361.43" r="1.45" fill="#fff" stroke="#8ac66e" stroke-width="1.25"/>
<circle cx="264.10" cy="363.30" r="1.45" fill="#fff" stroke="#4f69c2" stroke-width="1.25"/><circle cx="273.81" cy="235.99" r="1.45" fill="#fff" stroke="#4f69c2" stroke-width="1.25"/><circle cx="283.52" cy="302.61" r="1.45" fill="#fff" stroke="#4f69c2" stroke-width="1.25"/><circle cx="293.22" cy="325.44" r="1.45" fill="#fff" stroke="#4f69c2" stroke-width="1.25"/><circle cx="302.93" cy="324.01" r="1.45" fill="#fff" stroke="#4f69c2" stroke-width="1.25"/><circle cx="312.64" cy="320.17" r="1.45" fill="#fff" stroke="#4f69c2" stroke-width="1.25"/><circle cx="322.35" cy="316.88" r="1.45" fill="#fff" stroke="#4f69c2" stroke-width="1.25"/><circle cx="332.06" cy="315.23" r="1.45" fill="#fff" stroke="#4f69c2" stroke-width="1.25"/><circle cx="341.76" cy="314.68" r="1.45" fill="#fff" stroke="#4f69c2" stroke-width="1.25"/><circle cx="351.47" cy="335.86" r="1.45" fill="#fff" stroke="#4f69c2" stroke-width="1.25"/><circle cx="361.18" cy="345.63" r="1.45" fill="#fff" stroke="#4f69c2" stroke-width="1.25"/><circle cx="370.89" cy="347.17" r="1.45" fill="#fff" stroke="#4f69c2" stroke-width="1.25"/><circle cx="380.60" cy="350.46" r="1.45" fill="#fff" stroke="#4f69c2" stroke-width="1.25"/><circle cx="390.30" cy="353.64" r="1.45" fill="#fff" stroke="#4f69c2" stroke-width="1.25"/><circle cx="400.01" cy="355.29" r="1.45" fill="#fff" stroke="#4f69c2" stroke-width="1.25"/><circle cx="409.72" cy="355.95" r="1.45" fill="#fff" stroke="#4f69c2" stroke-width="1.25"/><circle cx="419.43" cy="356.61" r="1.45" fill="#fff" stroke="#4f69c2" stroke-width="1.25"/><circle cx="429.14" cy="357.15" r="1.45" fill="#fff" stroke="#4f69c2" stroke-width="1.25"/><circle cx="438.84" cy="357.15" r="1.45" fill="#fff" stroke="#4f69c2" stroke-width="1.25"/><circle cx="448.55" cy="358.03" r="1.45" fill="#fff" stroke="#4f69c2" stroke-width="1.25"/><circle cx="458.26" cy="358.58" r="1.45" fill="#fff" stroke="#4f69c2" stroke-width="1.25"/><circle cx="467.97" cy="358.58" r="1.45" fill="#fff" stroke="#4f69c2" stroke-width="1.25"/><circle cx="477.68" cy="358.58" r="1.45" fill="#fff" stroke="#4f69c2" stroke-width="1.25"/><circle cx="487.38" cy="358.91" r="1.45" fill="#fff" stroke="#4f69c2" stroke-width="1.25"/><circle cx="497.09" cy="358.58" r="1.45" fill="#fff" stroke="#4f69c2" stroke-width="1.25"/><circle cx="506.80" cy="358.14" r="1.45" fill="#fff" stroke="#4f69c2" stroke-width="1.25"/><circle cx="516.51" cy="357.70" r="1.45" fill="#fff" stroke="#4f69c2" stroke-width="1.25"/><circle cx="526.22" cy="357.26" r="1.45" fill="#fff" stroke="#4f69c2" stroke-width="1.25"/><circle cx="535.92" cy="356.17" r="1.45" fill="#fff" stroke="#4f69c2" stroke-width="1.25"/><circle cx="545.63" cy="356.17" r="1.45" fill="#fff" stroke="#4f69c2" stroke-width="1.25"/><circle cx="555.34" cy="354.85" r="1.45" fill="#fff" stroke="#4f69c2" stroke-width="1.25"/><circle cx="565.05" cy="356.72" r="1.45" fill="#fff" stroke="#4f69c2" stroke-width="1.25"/><circle cx="574.76" cy="357.26" r="1.45" fill="#fff" stroke="#4f69c2" stroke-width="1.25"/><circle cx="584.46" cy="357.26" r="1.45" fill="#fff" stroke="#4f69c2" stroke-width="1.25"/><circle cx="594.17" cy="358.91" r="1.45" fill="#fff" stroke="#4f69c2" stroke-width="1.25"/><circle cx="603.88" cy="360.01" r="1.45" fill="#fff" stroke="#4f69c2" stroke-width="1.25"/><circle cx="613.59" cy="360.23" r="1.45" fill="#fff" stroke="#4f69c2" stroke-width="1.25"/><circle cx="623.30" cy="360.34" r="1.45" fill="#fff" stroke="#4f69c2" stroke-width="1.25"/><circle cx="633.00" cy="360.34" r="1.45" fill="#fff" stroke="#4f69c2" stroke-width="1.25"/><circle cx="642.71" cy="360.34" r="1.45" fill="#fff" stroke="#4f69c2" stroke-width="1.25"/><circle cx="652.42" cy="360.34" r="1.45" fill="#fff" stroke="#4f69c2" stroke-width="1.25"/><circle cx="662.13" cy="360.34" r="1.45" fill="#fff" stroke="#4f69c2" stroke-width="1.25"/><circle cx="671.84" cy="360.34" r="1.45" fill="#fff" stroke="#4f69c2" stroke-width="1.25"/><circle cx="681.54" cy="360.34" r="1.45" fill="#fff" stroke="#4f69c2" stroke-width="1.25"/><circle cx="691.25" cy="360.34" r="1.45" fill="#fff" stroke="#4f69c2" stroke-width="1.25"/><circle cx="700.96" cy="360.34" r="1.45" fill="#fff" stroke="#4f69c2" stroke-width="1.25"/><circle cx="710.67" cy="360.34" r="1.45" fill="#fff" stroke="#4f69c2" stroke-width="1.25"/><circle cx="720.38" cy="360.34" r="1.45" fill="#fff" stroke="#4f69c2" stroke-width="1.25"/><circle cx="730.08" cy="360.34" r="1.45" fill="#fff" stroke="#4f69c2" stroke-width="1.25"/><circle cx="739.79" cy="360.34" r="1.45" fill="#fff" stroke="#4f69c2" stroke-width="1.25"/><circle cx="749.50" cy="360.34" r="1.45" fill="#fff" stroke="#4f69c2" stroke-width="1.25"/><circle cx="759.21" cy="360.34" r="1.45" fill="#fff" stroke="#4f69c2" stroke-width="1.25"/><circle cx="768.92" cy="360.34" r="1.45" fill="#fff" stroke="#4f69c2" stroke-width="1.25"/><circle cx="778.62" cy="360.34" r="1.45" fill="#fff" stroke="#4f69c2" stroke-width="1.25"/><circle cx="788.33" cy="360.34" r="1.45" fill="#fff" stroke="#4f69c2" stroke-width="1.25"/><circle cx="798.04" cy="360.34" r="1.45" fill="#fff" stroke="#4f69c2" stroke-width="1.25"/><circle cx="807.75" cy="360.34" r="1.45" fill="#fff" stroke="#4f69c2" stroke-width="1.25"/><circle cx="817.46" cy="360.34" r="1.45" fill="#fff" stroke="#4f69c2" stroke-width="1.25"/><circle cx="827.16" cy="360.34" r="1.45" fill="#fff" stroke="#4f69c2" stroke-width="1.25"/><circle cx="836.87" cy="359.90" r="1.45" fill="#fff" stroke="#4f69c2" stroke-width="1.25"/><circle cx="846.58" cy="359.90" r="1.45" fill="#fff" stroke="#4f69c2" stroke-width="1.25"/><circle cx="856.29" cy="359.90" r="1.45" fill="#fff" stroke="#4f69c2" stroke-width="1.25"/><circle cx="866.00" cy="359.90" r="1.45" fill="#fff" stroke="#4f69c2" stroke-width="1.25"/><circle cx="875.70" cy="360.34" r="1.45" fill="#fff" stroke="#4f69c2" stroke-width="1.25"/><circle cx="885.41" cy="360.34" r="1.45" fill="#fff" stroke="#4f69c2" stroke-width="1.25"/><circle cx="895.12" cy="360.34" r="1.45" fill="#fff" stroke="#4f69c2" stroke-width="1.25"/><circle cx="904.83" cy="360.34" r="1.45" fill="#fff" stroke="#4f69c2" stroke-width="1.25"/><circle cx="914.54" cy="360.48" r="1.45" fill="#fff" stroke="#4f69c2" stroke-width="1.25"/><circle cx="924.24" cy="360.62" r="1.45" fill="#fff" stroke="#4f69c2" stroke-width="1.25"/><circle cx="933.95" cy="360.76" r="1.45" fill="#fff" stroke="#4f69c2" stroke-width="1.25"/><circle cx="943.66" cy="360.91" r="1.45" fill="#fff" stroke="#4f69c2" stroke-width="1.25"/><circle cx="953.37" cy="361.05" r="1.45" fill="#fff" stroke="#4f69c2" stroke-width="1.25"/><circle cx="963.08" cy="361.19" r="1.45" fill="#fff" stroke="#4f69c2" stroke-width="1.25"/><circle cx="972.78" cy="361.34" r="1.45" fill="#fff" stroke="#4f69c2" stroke-width="1.25"/>
<line x1="539.4" y1="222.10" x2="554" y2="222.10" stroke="#4f69c2" stroke-width="1.2"/>
<circle cx="546.8" cy="222.10" r="3.4" fill="#fff" stroke="#4f69c2" stroke-width="1.3"/>
<text x="557.9" y="224.60" class="lg">anomaly</text>
<line x1="594.3" y1="222.10" x2="609" y2="222.10" stroke="#8ac66e" stroke-width="1.2"/>
<circle cx="601.7" cy="222.10" r="3.4" fill="#fff" stroke="#8ac66e" stroke-width="1.3"/>
<text x="612.6" y="224.60" class="lg">normal</text>
<text x="259.4" y="535.80" text-anchor="end" class="yl">0</text>
<line x1="264.10" y1="511.93" x2="972.78" y2="511.93" stroke="#e0e6f1" stroke-width="0.7"/>
<text x="259.4" y="513.83" text-anchor="end" class="yl">2</text>
<line x1="264.10" y1="489.97" x2="972.78" y2="489.97" stroke="#e0e6f1" stroke-width="0.7"/>
<text x="259.4" y="491.87" text-anchor="end" class="yl">4</text>
<line x1="264.10" y1="468.00" x2="972.78" y2="468.00" stroke="#e0e6f1" stroke-width="0.7"/>
<text x="259.4" y="469.90" text-anchor="end" class="yl">6</text>
<line x1="264.10" y1="446.03" x2="972.78" y2="446.03" stroke="#e0e6f1" stroke-width="0.7"/>
<text x="259.4" y="447.93" text-anchor="end" class="yl">8</text>
<line x1="264.10" y1="424.07" x2="972.78" y2="424.07" stroke="#e0e6f1" stroke-width="0.7"/>
<text x="259.4" y="425.97" text-anchor="end" class="yl">10</text>
<line x1="264.10" y1="402.10" x2="972.78" y2="402.10" stroke="#e0e6f1" stroke-width="0.7"/>
<text x="259.4" y="404.00" text-anchor="end" class="yl">12</text>
<line x1="264.10" y1="533.90" x2="972.78" y2="533.90" stroke="#6e7079" stroke-width="0.8"/>
<line x1="264.10" y1="533.90" x2="264.10" y2="536.90" stroke="#6e7079" stroke-width="0.8"/>
<text x="264.10" y="544.60" text-anchor="middle" class="xl">0</text>
<line x1="380.60" y1="533.90" x2="380.60" y2="536.90" stroke="#6e7079" stroke-width="0.8"/>
<text x="380.60" y="544.60" text-anchor="middle" class="xl" textLength="79.72" lengthAdjust="spacingAndGlyphs">0.08108108108108109</text>
<line x1="497.09" y1="533.90" x2="497.09" y2="536.90" stroke="#6e7079" stroke-width="0.8"/>
<text x="497.09" y="544.60" text-anchor="middle" class="xl" textLength="79.72" lengthAdjust="spacingAndGlyphs">0.16216216216216217</text>
<line x1="613.59" y1="533.90" x2="613.59" y2="536.90" stroke="#6e7079" stroke-width="0.8"/>
<text x="613.59" y="544.60" text-anchor="middle" class="xl" textLength="79.72" lengthAdjust="spacingAndGlyphs">0.24324324324324326</text>
<line x1="730.08" y1="533.90" x2="730.08" y2="536.90" stroke="#6e7079" stroke-width="0.8"/>
<text x="730.08" y="544.60" text-anchor="middle" class="xl" textLength="79.72" lengthAdjust="spacingAndGlyphs">0.32432432432432434</text>
<line x1="846.58" y1="533.90" x2="846.58" y2="536.90" stroke="#6e7079" stroke-width="0.8"/>
<text x="846.58" y="544.60" text-anchor="middle" class="xl" textLength="79.72" lengthAdjust="spacingAndGlyphs">0.40540540540540543</text>
<line x1="963.08" y1="533.90" x2="963.08" y2="536.90" stroke="#6e7079" stroke-width="0.8"/>
<text x="963.08" y="544.60" text-anchor="middle" class="xl" textLength="75.41" lengthAdjust="spacingAndGlyphs">0.4864864864864864</text>
<polyline points="264.10,533.90 273.81,419.12 283.52,473.93 293.22,496.01 302.93,497.44 312.64,491.83 322.35,488.54 332.06,487.77 341.76,486.89 351.47,509.19 361.18,517.97 370.89,519.84 380.60,522.26 390.30,526.21 400.01,527.09 409.72,527.75 419.43,527.75 429.14,528.19 438.84,528.19 448.55,528.63 458.26,529.29 467.97,529.55 477.68,529.55 487.38,529.86 497.09,529.55 506.80,529.15 516.51,528.75 526.22,528.34 535.92,527.33 545.63,527.33 555.34,527.13 565.05,528.63 574.76,529.07 584.46,529.07 594.17,530.39 603.88,530.87 613.59,531.07 623.30,531.08 633.00,531.08 642.71,531.08 652.42,531.08 662.13,531.08 671.84,531.08 681.54,531.08 691.25,531.08 700.96,531.08 710.67,531.08 720.38,531.08 730.08,531.08 739.79,531.08 749.50,531.08 759.21,531.08 768.92,531.08 778.62,531.08 788.33,531.08 798.04,531.08 807.75,531.08 817.46,531.08 827.16,531.08 836.87,530.67 846.58,530.67 856.29,530.67 866.00,530.67 875.70,531.08 885.41,531.08 895.12,531.08 904.83,531.08 914.54,531.22 924.24,531.35 933.95,531.49 943.66,531.63 953.37,531.76 963.08,531.90 972.78,532.03" fill="none" stroke="#8ac66e" stroke-width="1.5" stroke-linejoin="round"/>
<polyline points="264.10,533.90 273.81,413.08 283.52,469.54 293.22,493.04 302.93,494.36 312.64,489.75 322.35,486.23 332.06,484.15 341.76,483.82 351.47,505.56 361.18,517.64 370.89,519.51 380.60,521.82 390.30,525.11 400.01,525.99 409.72,527.31 419.43,527.31 429.14,527.75 438.84,527.75 448.55,528.19 458.26,529.07 467.97,529.18 477.68,529.18 487.38,529.51 497.09,529.18 506.80,528.74 516.51,528.30 526.22,527.86 535.92,526.76 545.63,526.76 555.34,525.44 565.05,527.31 574.76,527.86 584.46,527.86 594.17,529.51 603.88,530.61 613.59,530.82 623.30,530.93 633.00,530.93 642.71,530.93 652.42,530.93 662.13,530.93 671.84,530.93 681.54,530.93 691.25,530.93 700.96,530.93 710.67,530.93 720.38,530.93 730.08,530.93 739.79,530.93 749.50,530.93 759.21,530.93 768.92,530.93 778.62,530.93 788.33,530.93 798.04,530.93 807.75,530.93 817.46,530.93 827.16,530.93 836.87,530.50 846.58,530.50 856.29,530.50 866.00,530.50 875.70,530.93 885.41,530.93 895.12,530.93 904.83,530.93 914.54,531.08 924.24,531.22 933.95,531.36 943.66,531.51 953.37,531.65 963.08,531.79 972.78,531.93" fill="none" stroke="#4f69c2" stroke-width="1.5" stroke-linejoin="round"/>
<circle cx="264.10" cy="533.90" r="1.45" fill="#fff" stroke="#8ac66e" stroke-width="1.25"/><circle cx="273.81" cy="419.12" r="1.45" fill="#fff" stroke="#8ac66e" stroke-width="1.25"/><circle cx="283.52" cy="473.93" r="1.45" fill="#fff" stroke="#8ac66e" stroke-width="1.25"/><circle cx="293.22" cy="496.01" r="1.45" fill="#fff" stroke="#8ac66e" stroke-width="1.25"/><circle cx="302.93" cy="497.44" r="1.45" fill="#fff" stroke="#8ac66e" stroke-width="1.25"/><circle cx="312.64" cy="491.83" r="1.45" fill="#fff" stroke="#8ac66e" stroke-width="1.25"/><circle cx="322.35" cy="488.54" r="1.45" fill="#fff" stroke="#8ac66e" stroke-width="1.25"/><circle cx="332.06" cy="487.77" r="1.45" fill="#fff" stroke="#8ac66e" stroke-width="1.25"/><circle cx="341.76" cy="486.89" r="1.45" fill="#fff" stroke="#8ac66e" stroke-width="1.25"/><circle cx="351.47" cy="509.19" r="1.45" fill="#fff" stroke="#8ac66e" stroke-width="1.25"/><circle cx="361.18" cy="517.97" r="1.45" fill="#fff" stroke="#8ac66e" stroke-width="1.25"/><circle cx="370.89" cy="519.84" r="1.45" fill="#fff" stroke="#8ac66e" stroke-width="1.25"/><circle cx="380.60" cy="522.26" r="1.45" fill="#fff" stroke="#8ac66e" stroke-width="1.25"/><circle cx="390.30" cy="526.21" r="1.45" fill="#fff" stroke="#8ac66e" stroke-width="1.25"/><circle cx="400.01" cy="527.09" r="1.45" fill="#fff" stroke="#8ac66e" stroke-width="1.25"/><circle cx="409.72" cy="527.75" r="1.45" fill="#fff" stroke="#8ac66e" stroke-width="1.25"/><circle cx="419.43" cy="527.75" r="1.45" fill="#fff" stroke="#8ac66e" stroke-width="1.25"/><circle cx="429.14" cy="528.19" r="1.45" fill="#fff" stroke="#8ac66e" stroke-width="1.25"/><circle cx="438.84" cy="528.19" r="1.45" fill="#fff" stroke="#8ac66e" stroke-width="1.25"/><circle cx="448.55" cy="528.63" r="1.45" fill="#fff" stroke="#8ac66e" stroke-width="1.25"/><circle cx="458.26" cy="529.29" r="1.45" fill="#fff" stroke="#8ac66e" stroke-width="1.25"/><circle cx="467.97" cy="529.55" r="1.45" fill="#fff" stroke="#8ac66e" stroke-width="1.25"/><circle cx="477.68" cy="529.55" r="1.45" fill="#fff" stroke="#8ac66e" stroke-width="1.25"/><circle cx="487.38" cy="529.86" r="1.45" fill="#fff" stroke="#8ac66e" stroke-width="1.25"/><circle cx="497.09" cy="529.55" r="1.45" fill="#fff" stroke="#8ac66e" stroke-width="1.25"/><circle cx="506.80" cy="529.15" r="1.45" fill="#fff" stroke="#8ac66e" stroke-width="1.25"/><circle cx="516.51" cy="528.75" r="1.45" fill="#fff" stroke="#8ac66e" stroke-width="1.25"/><circle cx="526.22" cy="528.34" r="1.45" fill="#fff" stroke="#8ac66e" stroke-width="1.25"/><circle cx="535.92" cy="527.33" r="1.45" fill="#fff" stroke="#8ac66e" stroke-width="1.25"/><circle cx="545.63" cy="527.33" r="1.45" fill="#fff" stroke="#8ac66e" stroke-width="1.25"/><circle cx="555.34" cy="527.13" r="1.45" fill="#fff" stroke="#8ac66e" stroke-width="1.25"/><circle cx="565.05" cy="528.63" r="1.45" fill="#fff" stroke="#8ac66e" stroke-width="1.25"/><circle cx="574.76" cy="529.07" r="1.45" fill="#fff" stroke="#8ac66e" stroke-width="1.25"/><circle cx="584.46" cy="529.07" r="1.45" fill="#fff" stroke="#8ac66e" stroke-width="1.25"/><circle cx="594.17" cy="530.39" r="1.45" fill="#fff" stroke="#8ac66e" stroke-width="1.25"/><circle cx="603.88" cy="530.87" r="1.45" fill="#fff" stroke="#8ac66e" stroke-width="1.25"/><circle cx="613.59" cy="531.07" r="1.45" fill="#fff" stroke="#8ac66e" stroke-width="1.25"/><circle cx="623.30" cy="531.08" r="1.45" fill="#fff" stroke="#8ac66e" stroke-width="1.25"/><circle cx="633.00" cy="531.08" r="1.45" fill="#fff" stroke="#8ac66e" stroke-width="1.25"/><circle cx="642.71" cy="531.08" r="1.45" fill="#fff" stroke="#8ac66e" stroke-width="1.25"/><circle cx="652.42" cy="531.08" r="1.45" fill="#fff" stroke="#8ac66e" stroke-width="1.25"/><circle cx="662.13" cy="531.08" r="1.45" fill="#fff" stroke="#8ac66e" stroke-width="1.25"/><circle cx="671.84" cy="531.08" r="1.45" fill="#fff" stroke="#8ac66e" stroke-width="1.25"/><circle cx="681.54" cy="531.08" r="1.45" fill="#fff" stroke="#8ac66e" stroke-width="1.25"/><circle cx="691.25" cy="531.08" r="1.45" fill="#fff" stroke="#8ac66e" stroke-width="1.25"/><circle cx="700.96" cy="531.08" r="1.45" fill="#fff" stroke="#8ac66e" stroke-width="1.25"/><circle cx="710.67" cy="531.08" r="1.45" fill="#fff" stroke="#8ac66e" stroke-width="1.25"/><circle cx="720.38" cy="531.08" r="1.45" fill="#fff" stroke="#8ac66e" stroke-width="1.25"/><circle cx="730.08" cy="531.08" r="1.45" fill="#fff" stroke="#8ac66e" stroke-width="1.25"/><circle cx="739.79" cy="531.08" r="1.45" fill="#fff" stroke="#8ac66e" stroke-width="1.25"/><circle cx="749.50" cy="531.08" r="1.45" fill="#fff" stroke="#8ac66e" stroke-width="1.25"/><circle cx="759.21" cy="531.08" r="1.45" fill="#fff" stroke="#8ac66e" stroke-width="1.25"/><circle cx="768.92" cy="531.08" r="1.45" fill="#fff" stroke="#8ac66e" stroke-width="1.25"/><circle cx="778.62" cy="531.08" r="1.45" fill="#fff" stroke="#8ac66e" stroke-width="1.25"/><circle cx="788.33" cy="531.08" r="1.45" fill="#fff" stroke="#8ac66e" stroke-width="1.25"/><circle cx="798.04" cy="531.08" r="1.45" fill="#fff" stroke="#8ac66e" stroke-width="1.25"/><circle cx="807.75" cy="531.08" r="1.45" fill="#fff" stroke="#8ac66e" stroke-width="1.25"/><circle cx="817.46" cy="531.08" r="1.45" fill="#fff" stroke="#8ac66e" stroke-width="1.25"/><circle cx="827.16" cy="531.08" r="1.45" fill="#fff" stroke="#8ac66e" stroke-width="1.25"/><circle cx="836.87" cy="530.67" r="1.45" fill="#fff" stroke="#8ac66e" stroke-width="1.25"/><circle cx="846.58" cy="530.67" r="1.45" fill="#fff" stroke="#8ac66e" stroke-width="1.25"/><circle cx="856.29" cy="530.67" r="1.45" fill="#fff" stroke="#8ac66e" stroke-width="1.25"/><circle cx="866.00" cy="530.67" r="1.45" fill="#fff" stroke="#8ac66e" stroke-width="1.25"/><circle cx="875.70" cy="531.08" r="1.45" fill="#fff" stroke="#8ac66e" stroke-width="1.25"/><circle cx="885.41" cy="531.08" r="1.45" fill="#fff" stroke="#8ac66e" stroke-width="1.25"/><circle cx="895.12" cy="531.08" r="1.45" fill="#fff" stroke="#8ac66e" stroke-width="1.25"/><circle cx="904.83" cy="531.08" r="1.45" fill="#fff" stroke="#8ac66e" stroke-width="1.25"/><circle cx="914.54" cy="531.22" r="1.45" fill="#fff" stroke="#8ac66e" stroke-width="1.25"/><circle cx="924.24" cy="531.35" r="1.45" fill="#fff" stroke="#8ac66e" stroke-width="1.25"/><circle cx="933.95" cy="531.49" r="1.45" fill="#fff" stroke="#8ac66e" stroke-width="1.25"/><circle cx="943.66" cy="531.63" r="1.45" fill="#fff" stroke="#8ac66e" stroke-width="1.25"/><circle cx="953.37" cy="531.76" r="1.45" fill="#fff" stroke="#8ac66e" stroke-width="1.25"/><circle cx="963.08" cy="531.90" r="1.45" fill="#fff" stroke="#8ac66e" stroke-width="1.25"/><circle cx="972.78" cy="532.03" r="1.45" fill="#fff" stroke="#8ac66e" stroke-width="1.25"/>
<circle cx="264.10" cy="533.90" r="1.45" fill="#fff" stroke="#4f69c2" stroke-width="1.25"/><circle cx="273.81" cy="413.08" r="1.45" fill="#fff" stroke="#4f69c2" stroke-width="1.25"/><circle cx="283.52" cy="469.54" r="1.45" fill="#fff" stroke="#4f69c2" stroke-width="1.25"/><circle cx="293.22" cy="493.04" r="1.45" fill="#fff" stroke="#4f69c2" stroke-width="1.25"/><circle cx="302.93" cy="494.36" r="1.45" fill="#fff" stroke="#4f69c2" stroke-width="1.25"/><circle cx="312.64" cy="489.75" r="1.45" fill="#fff" stroke="#4f69c2" stroke-width="1.25"/><circle cx="322.35" cy="486.23" r="1.45" fill="#fff" stroke="#4f69c2" stroke-width="1.25"/><circle cx="332.06" cy="484.15" r="1.45" fill="#fff" stroke="#4f69c2" stroke-width="1.25"/><circle cx="341.76" cy="483.82" r="1.45" fill="#fff" stroke="#4f69c2" stroke-width="1.25"/><circle cx="351.47" cy="505.56" r="1.45" fill="#fff" stroke="#4f69c2" stroke-width="1.25"/><circle cx="361.18" cy="517.64" r="1.45" fill="#fff" stroke="#4f69c2" stroke-width="1.25"/><circle cx="370.89" cy="519.51" r="1.45" fill="#fff" stroke="#4f69c2" stroke-width="1.25"/><circle cx="380.60" cy="521.82" r="1.45" fill="#fff" stroke="#4f69c2" stroke-width="1.25"/><circle cx="390.30" cy="525.11" r="1.45" fill="#fff" stroke="#4f69c2" stroke-width="1.25"/><circle cx="400.01" cy="525.99" r="1.45" fill="#fff" stroke="#4f69c2" stroke-width="1.25"/><circle cx="409.72" cy="527.31" r="1.45" fill="#fff" stroke="#4f69c2" stroke-width="1.25"/><circle cx="419.43" cy="527.31" r="1.45" fill="#fff" stroke="#4f69c2" stroke-width="1.25"/><circle cx="429.14" cy="527.75" r="1.45" fill="#fff" stroke="#4f69c2" stroke-width="1.25"/><circle cx="438.84" cy="527.75" r="1.45" fill="#fff" stroke="#4f69c2" stroke-width="1.25"/><circle cx="448.55" cy="528.19" r="1.45" fill="#fff" stroke="#4f69c2" stroke-width="1.25"/><circle cx="458.26" cy="529.07" r="1.45" fill="#fff" stroke="#4f69c2" stroke-width="1.25"/><circle cx="467.97" cy="529.18" r="1.45" fill="#fff" stroke="#4f69c2" stroke-width="1.25"/><circle cx="477.68" cy="529.18" r="1.45" fill="#fff" stroke="#4f69c2" stroke-width="1.25"/><circle cx="487.38" cy="529.51" r="1.45" fill="#fff" stroke="#4f69c2" stroke-width="1.25"/><circle cx="497.09" cy="529.18" r="1.45" fill="#fff" stroke="#4f69c2" stroke-width="1.25"/><circle cx="506.80" cy="528.74" r="1.45" fill="#fff" stroke="#4f69c2" stroke-width="1.25"/><circle cx="516.51" cy="528.30" r="1.45" fill="#fff" stroke="#4f69c2" stroke-width="1.25"/><circle cx="526.22" cy="527.86" r="1.45" fill="#fff" stroke="#4f69c2" stroke-width="1.25"/><circle cx="535.92" cy="526.76" r="1.45" fill="#fff" stroke="#4f69c2" stroke-width="1.25"/><circle cx="545.63" cy="526.76" r="1.45" fill="#fff" stroke="#4f69c2" stroke-width="1.25"/><circle cx="555.34" cy="525.44" r="1.45" fill="#fff" stroke="#4f69c2" stroke-width="1.25"/><circle cx="565.05" cy="527.31" r="1.45" fill="#fff" stroke="#4f69c2" stroke-width="1.25"/><circle cx="574.76" cy="527.86" r="1.45" fill="#fff" stroke="#4f69c2" stroke-width="1.25"/><circle cx="584.46" cy="527.86" r="1.45" fill="#fff" stroke="#4f69c2" stroke-width="1.25"/><circle cx="594.17" cy="529.51" r="1.45" fill="#fff" stroke="#4f69c2" stroke-width="1.25"/><circle cx="603.88" cy="530.61" r="1.45" fill="#fff" stroke="#4f69c2" stroke-width="1.25"/><circle cx="613.59" cy="530.82" r="1.45" fill="#fff" stroke="#4f69c2" stroke-width="1.25"/><circle cx="623.30" cy="530.93" r="1.45" fill="#fff" stroke="#4f69c2" stroke-width="1.25"/><circle cx="633.00" cy="530.93" r="1.45" fill="#fff" stroke="#4f69c2" stroke-width="1.25"/><circle cx="642.71" cy="530.93" r="1.45" fill="#fff" stroke="#4f69c2" stroke-width="1.25"/><circle cx="652.42" cy="530.93" r="1.45" fill="#fff" stroke="#4f69c2" stroke-width="1.25"/><circle cx="662.13" cy="530.93" r="1.45" fill="#fff" stroke="#4f69c2" stroke-width="1.25"/><circle cx="671.84" cy="530.93" r="1.45" fill="#fff" stroke="#4f69c2" stroke-width="1.25"/><circle cx="681.54" cy="530.93" r="1.45" fill="#fff" stroke="#4f69c2" stroke-width="1.25"/><circle cx="691.25" cy="530.93" r="1.45" fill="#fff" stroke="#4f69c2" stroke-width="1.25"/><circle cx="700.96" cy="530.93" r="1.45" fill="#fff" stroke="#4f69c2" stroke-width="1.25"/><circle cx="710.67" cy="530.93" r="1.45" fill="#fff" stroke="#4f69c2" stroke-width="1.25"/><circle cx="720.38" cy="530.93" r="1.45" fill="#fff" stroke="#4f69c2" stroke-width="1.25"/><circle cx="730.08" cy="530.93" r="1.45" fill="#fff" stroke="#4f69c2" stroke-width="1.25"/><circle cx="739.79" cy="530.93" r="1.45" fill="#fff" stroke="#4f69c2" stroke-width="1.25"/><circle cx="749.50" cy="530.93" r="1.45" fill="#fff" stroke="#4f69c2" stroke-width="1.25"/><circle cx="759.21" cy="530.93" r="1.45" fill="#fff" stroke="#4f69c2" stroke-width="1.25"/><circle cx="768.92" cy="530.93" r="1.45" fill="#fff" stroke="#4f69c2" stroke-width="1.25"/><circle cx="778.62" cy="530.93" r="1.45" fill="#fff" stroke="#4f69c2" stroke-width="1.25"/><circle cx="788.33" cy="530.93" r="1.45" fill="#fff" stroke="#4f69c2" stroke-width="1.25"/><circle cx="798.04" cy="530.93" r="1.45" fill="#fff" stroke="#4f69c2" stroke-width="1.25"/><circle cx="807.75" cy="530.93" r="1.45" fill="#fff" stroke="#4f69c2" stroke-width="1.25"/><circle cx="817.46" cy="530.93" r="1.45" fill="#fff" stroke="#4f69c2" stroke-width="1.25"/><circle cx="827.16" cy="530.93" r="1.45" fill="#fff" stroke="#4f69c2" stroke-width="1.25"/><circle cx="836.87" cy="530.50" r="1.45" fill="#fff" stroke="#4f69c2" stroke-width="1.25"/><circle cx="846.58" cy="530.50" r="1.45" fill="#fff" stroke="#4f69c2" stroke-width="1.25"/><circle cx="856.29" cy="530.50" r="1.45" fill="#fff" stroke="#4f69c2" stroke-width="1.25"/><circle cx="866.00" cy="530.50" r="1.45" fill="#fff" stroke="#4f69c2" stroke-width="1.25"/><circle cx="875.70" cy="530.93" r="1.45" fill="#fff" stroke="#4f69c2" stroke-width="1.25"/><circle cx="885.41" cy="530.93" r="1.45" fill="#fff" stroke="#4f69c2" stroke-width="1.25"/><circle cx="895.12" cy="530.93" r="1.45" fill="#fff" stroke="#4f69c2" stroke-width="1.25"/><circle cx="904.83" cy="530.93" r="1.45" fill="#fff" stroke="#4f69c2" stroke-width="1.25"/><circle cx="914.54" cy="531.08" r="1.45" fill="#fff" stroke="#4f69c2" stroke-width="1.25"/><circle cx="924.24" cy="531.22" r="1.45" fill="#fff" stroke="#4f69c2" stroke-width="1.25"/><circle cx="933.95" cy="531.36" r="1.45" fill="#fff" stroke="#4f69c2" stroke-width="1.25"/><circle cx="943.66" cy="531.51" r="1.45" fill="#fff" stroke="#4f69c2" stroke-width="1.25"/><circle cx="953.37" cy="531.65" r="1.45" fill="#fff" stroke="#4f69c2" stroke-width="1.25"/><circle cx="963.08" cy="531.79" r="1.45" fill="#fff" stroke="#4f69c2" stroke-width="1.25"/><circle cx="972.78" cy="531.93" r="1.45" fill="#fff" stroke="#4f69c2" stroke-width="1.25"/>
<line x1="539.4" y1="393.00" x2="554" y2="393.00" stroke="#4f69c2" stroke-width="1.2"/>
<circle cx="546.8" cy="393.00" r="3.4" fill="#fff" stroke="#4f69c2" stroke-width="1.3"/>
<text x="557.9" y="395.50" class="lg">anomaly</text>
<line x1="594.3" y1="393.00" x2="609" y2="393.00" stroke="#8ac66e" stroke-width="1.2"/>
<circle cx="601.7" cy="393.00" r="3.4" fill="#fff" stroke="#8ac66e" stroke-width="1.3"/>
<text x="612.6" y="395.50" class="lg">normal</text>
</g>
<rect x="186.5" y="43.60" width="802.8" height="164.8" fill="none" stroke="#3592d6" stroke-width="1.6"/>
<rect x="186.5" y="214.50" width="802.8" height="164.8" fill="none" stroke="#3592d6" stroke-width="1.6"/>
<rect x="186.5" y="385.40" width="802.8" height="164.8" fill="none" stroke="#3592d6" stroke-width="1.6"/>
</svg>
<div class="lbl" style="left:926px;top:566.8px;font-size:13.2px;letter-spacing:-0.36px;font-style:italic;color:#2a2a2a;">aaa-057567</div>
</body></html>
